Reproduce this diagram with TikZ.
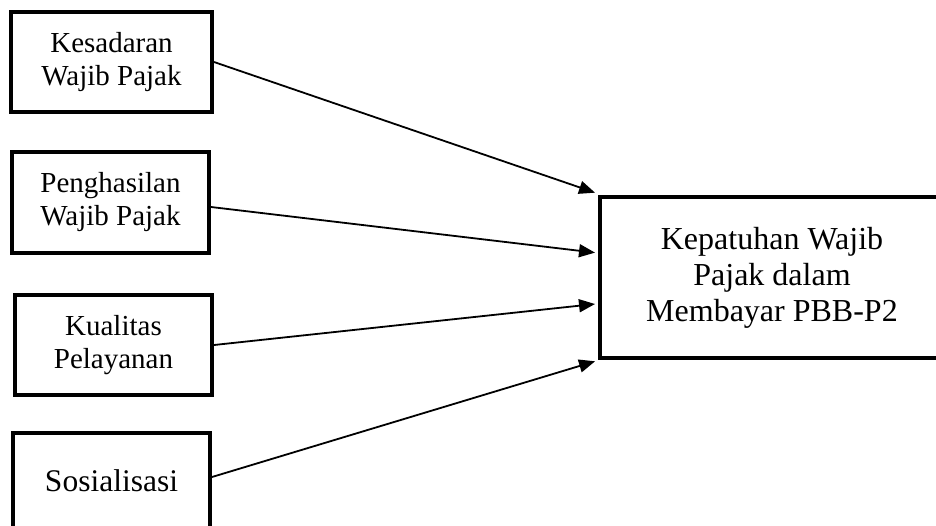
\documentclass[tikz,border=0pt]{standalone}
\usepackage{fontspec}
\setmainfont{Liberation Serif}
\usetikzlibrary{arrows.meta,calc}
\begin{document}
\begin{tikzpicture}[x=1pt,y=-1pt,
  leftbox/.style={draw,line width=4pt,align=center,inner sep=0pt,
    font=\fontsize{29}{33}\selectfont},
  rightbox/.style={draw,line width=4pt,align=center,inner sep=0pt,
    font=\fontsize{32}{36}\selectfont},
  conn/.style={line width=1.8pt,-{Triangle[length=16pt,width=13pt]},shorten >=1pt}]
\clip (0,0) rectangle (936,525);
\fill[white] (0,0) rectangle (936,525);
\node[leftbox,minimum width=201pt,minimum height=100pt] (b1) at (111.5,62) {Kesadaran\\Wajib Pajak};
\node[leftbox,minimum width=197pt,minimum height=101pt] (b2) at (110.5,202.5) {Penghasilan\\Wajib Pajak};
\node[leftbox,minimum width=197pt,minimum height=100pt] (b3) at (113.5,345) {Kualitas\\Pelayanan};
\node[leftbox,minimum width=197pt,minimum height=96pt,font=\fontsize{31.5}{36}\selectfont] (b4) at (111.5,481) {Sosialisasi};
\node[rightbox,minimum width=344pt,minimum height=161pt] (r) at (772,277.5) {Kepatuhan Wajib\\Pajak dalam\\Membayar PBB-P2};
\coordinate (t1) at ($(r.north west)+(-2,-2)$);
\coordinate (t2) at ($(r.north west)!0.35!(r.south west)+(-2,0)$);
\coordinate (t3) at ($(r.north west)!0.66!(r.south west)+(-2,0)$);
\coordinate (t4) at ($(r.south west)+(-2,1)$);
\draw[conn] (b1.east) -- (t1);
\draw[conn] ($(b2.east)+(0,4.5)$) -- (t2);
\draw[conn] (b3.east) -- (t3);
\draw[conn] ($(b4.east)+(0,-4)$) -- (t4);
\end{tikzpicture}
\end{document}
